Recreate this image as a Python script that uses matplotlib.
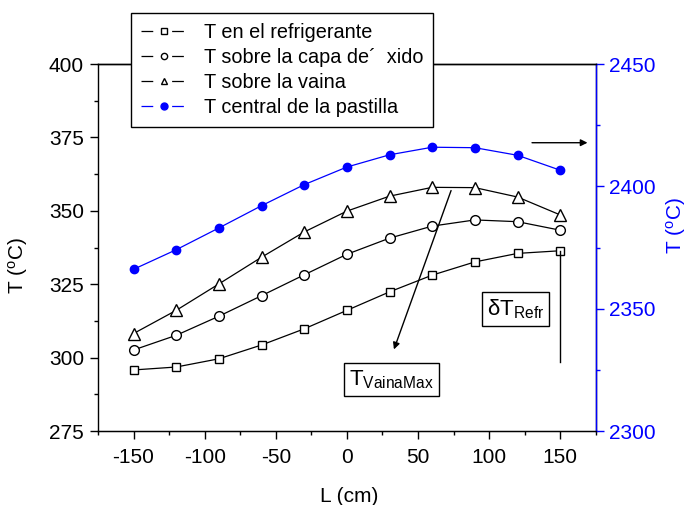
import numpy as np
import matplotlib
matplotlib.use('Agg')
import matplotlib.pyplot as plt
from matplotlib.ticker import MultipleLocator
from matplotlib.lines import Line2D

plt.rcParams['font.family'] = ['Liberation Sans', 'DejaVu Sans']
plt.rcParams['mathtext.fontset'] = 'custom'
plt.rcParams['mathtext.rm'] = 'Liberation Sans'
plt.rcParams['mathtext.it'] = 'Liberation Sans:italic'
plt.rcParams['axes.unicode_minus'] = False

L = [-150, -120, -90, -60, -30, 0, 30, 60, 90, 120, 150]
t_refrig = [295.8, 296.8, 299.6, 304.3, 309.8, 316.1, 322.4, 328.1, 332.6, 335.5, 336.4]
t_oxido = [302.6, 307.6, 314.1, 321.1, 328.2, 335.2, 340.7, 344.8, 346.9, 346.3, 343.4]
t_vaina = [308.2, 316.1, 325.1, 334.2, 342.8, 349.9, 355.0, 358.0, 357.9, 354.7, 348.6]
t_central = [2366.1, 2374.1, 2383.0, 2392.1, 2400.7, 2407.9, 2412.9, 2416.0, 2415.8, 2412.7, 2406.6]

labels = ['T en el refrigerante', 'T sobre la capa de\u00b4  xido',
          'T sobre la vaina', 'T central de la pastilla']

blue = '#0000ff'

fig = plt.figure(figsize=(6.92, 5.05), dpi=100)
ax = fig.add_axes([0.1416, 0.1465, 0.7194, 0.7267])
ax2 = ax.twinx()

ax.plot(L, t_refrig, 'k-', marker='s', ms=5.5, mfc='white', mec='black', lw=0.9)
ax.plot(L, t_oxido, 'k-', marker='o', ms=7, mfc='white', mec='black', lw=0.9)
ax.plot(L, t_vaina, 'k-', marker='^', ms=8, mfc='white', mec='black', lw=0.9)
ax2.plot(L, t_central, '-', color=blue, marker='o', ms=6, mfc=blue, mec=blue, lw=0.9)

ax.set_xlim(-175, 175)
ax.set_ylim(275, 400)
ax2.set_ylim(2300, 2450)

ax.xaxis.set_major_locator(MultipleLocator(50))
ax.xaxis.set_minor_locator(MultipleLocator(25))
ax.yaxis.set_major_locator(MultipleLocator(25))
ax.yaxis.set_minor_locator(MultipleLocator(12.5))
ax2.yaxis.set_major_locator(MultipleLocator(50))
ax2.yaxis.set_minor_locator(MultipleLocator(25))

ax.tick_params(which='both', direction='out', labelsize=15, width=1)
ax.tick_params(which='major', length=6)
ax.tick_params(which='minor', length=3)
ax.tick_params(axis='x', pad=6)
ax.tick_params(axis='y', right=False, pad=4)
ax2.tick_params(which='both', direction='out', colors=blue, labelsize=15, width=1)
ax2.tick_params(which='major', length=6)
ax2.tick_params(which='minor', length=3)
ax2.spines['right'].set_color(blue)
ax2.spines['left'].set_visible(False)
for sp in ax.spines.values():
    sp.set_linewidth(1)
ax2.spines['right'].set_linewidth(1)
ax2.spines['top'].set_linewidth(1)

ax.set_xlabel('L (cm)', fontsize=15)
ax.xaxis.set_label_coords(0.504, -0.153)
ax.set_ylabel(r'T ($^{\mathregular{o}}$C)', fontsize=15)
ax.yaxis.set_label_coords(-0.137, 0.452)
ax2.set_ylabel(r'T ($^{\mathregular{o}}$C)', fontsize=15, color=blue, rotation=90)
ax2.yaxis.set_label_coords(1.136, 0.56)

# annotations
ax.annotate('', xy=(32.4, 301.9), xytext=(73.9, 357.8),
            arrowprops=dict(arrowstyle='-|>', color='black', lw=1, mutation_scale=10))
ax.text(31.3, 292.5, r'$\mathregular{T_{VainaMax}}$', fontsize=16, ha='center', va='center',
        bbox=dict(boxstyle='square,pad=0.22', fc='white', ec='black', lw=1))
ax.plot([150, 150], [336.4, 298.5], 'k-', lw=1)
ax.text(118.7, 316.6, r'$\mathregular{\delta T_{Refr}}$', fontsize=16, ha='center', va='center',
        bbox=dict(boxstyle='square,pad=0.22', fc='white', ec='black', lw=1))
ax.annotate('', xy=(171.1, 373.2), xytext=(128.2, 373.2),
            arrowprops=dict(arrowstyle='-|>', color='black', lw=1, mutation_scale=10))

# legend handles: line - marker - line with gaps
dash = (9.4, 15.1)
h1 = Line2D([], [], color='k', lw=0.9, dashes=dash, marker='s', ms=4, mfc='white', mec='k')
h2 = Line2D([], [], color='k', lw=0.9, dashes=dash, marker='o', ms=4.5, mfc='white', mec='k')
h3 = Line2D([], [], color='k', lw=0.9, dashes=dash, marker='^', ms=5, mfc='white', mec='k')
h4 = Line2D([], [], color=blue, lw=0.9, dashes=dash, marker='o', ms=5, mfc=blue, mec=blue)

leg = ax2.legend([h1, h2, h3, h4], labels, loc='upper left', bbox_to_anchor=(0.066, 1.139),
                 borderaxespad=0, fontsize=14.3, frameon=True, fancybox=False,
                 edgecolor='black', framealpha=1, handlelength=2.36,
                 labelspacing=0.3, borderpad=0.5, handletextpad=0.8)
leg.get_frame().set_linewidth(1)

fig.savefig('out.png', dpi=100)
